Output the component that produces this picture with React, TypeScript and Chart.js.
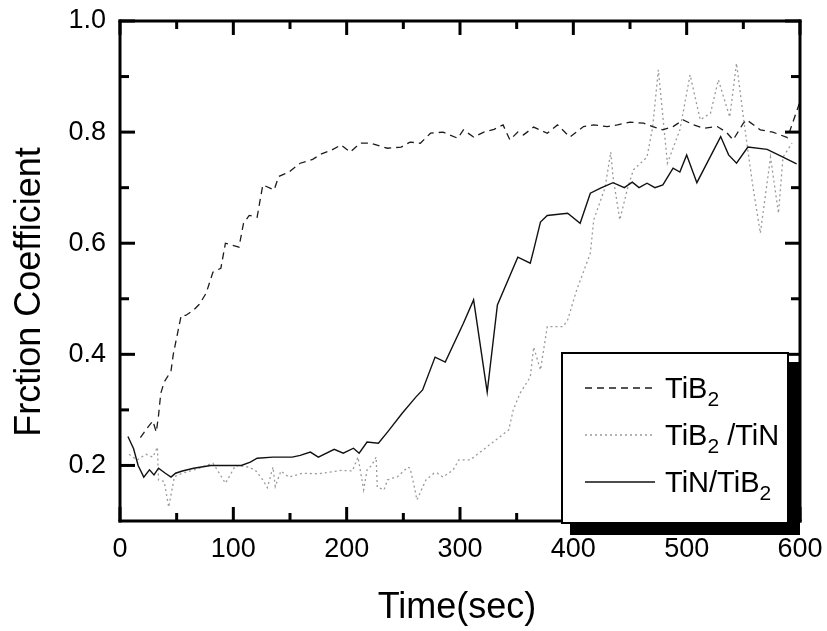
import React, { useEffect, useRef } from "react";
import { Chart, registerables } from "chart.js";

Chart.register(...registerables);

// ---- Data ----
const tib2Time = [18, 25, 29, 32, 34, 36, 39, 45, 47, 51, 54, 58, 65, 70, 76, 82, 89, 93, 105, 109, 114, 121, 126, 136, 140, 149, 159, 170, 177, 187, 195, 203, 212, 221, 229, 236, 248, 256, 265, 274, 285, 298, 303, 312, 321, 330, 338, 344, 351, 356, 365, 377, 386, 397, 409, 418, 430, 439, 450, 462, 470, 479, 488, 497, 506, 515, 527, 535, 541, 550, 553, 565, 576, 589, 600];
const tib2Coef = [0.25, 0.27, 0.28, 0.26, 0.29, 0.33, 0.35, 0.37, 0.4, 0.44, 0.47, 0.47, 0.48, 0.49, 0.51, 0.548, 0.555, 0.6, 0.593, 0.636, 0.65, 0.647, 0.705, 0.696, 0.72, 0.728, 0.744, 0.751, 0.76, 0.768, 0.777, 0.764, 0.78, 0.78, 0.775, 0.771, 0.773, 0.782, 0.78, 0.798, 0.8, 0.789, 0.804, 0.791, 0.8, 0.805, 0.813, 0.786, 0.8, 0.795, 0.809, 0.798, 0.813, 0.791, 0.81, 0.813, 0.81, 0.813, 0.818, 0.816, 0.81, 0.804, 0.81, 0.822, 0.813, 0.807, 0.81, 0.8, 0.786, 0.816, 0.822, 0.804, 0.8, 0.79, 0.855];

const tib2TinTime = [8, 15, 23, 29, 33, 34, 39, 43, 48, 55, 62, 70, 76, 82, 87, 93, 102, 114, 120, 126, 130, 135, 137, 142, 149, 161, 175, 195, 205, 210, 215, 218, 222, 226, 227, 233, 236, 245, 254, 256, 259, 262, 270, 277, 280, 285, 294, 299, 309, 343, 347, 353, 362, 365, 371, 377, 391, 395, 403, 415, 418, 428, 433, 435, 441, 448, 453, 465, 470, 475, 483, 494, 503, 512, 521, 528, 538, 544, 550, 558, 565, 574, 581, 585, 593];
const tib2TinCoef = [0.22, 0.21, 0.22, 0.215, 0.233, 0.174, 0.171, 0.125, 0.18, 0.186, 0.19, 0.195, 0.2, 0.204, 0.188, 0.168, 0.2, 0.197, 0.19, 0.174, 0.16, 0.197, 0.162, 0.19, 0.179, 0.186, 0.185, 0.191, 0.19, 0.215, 0.156, 0.192, 0.2, 0.215, 0.161, 0.156, 0.174, 0.18, 0.197, 0.195, 0.168, 0.138, 0.174, 0.186, 0.186, 0.179, 0.192, 0.21, 0.21, 0.264, 0.3, 0.33, 0.359, 0.413, 0.372, 0.45, 0.45, 0.462, 0.516, 0.582, 0.642, 0.7, 0.764, 0.72, 0.642, 0.7, 0.732, 0.755, 0.809, 0.912, 0.744, 0.804, 0.903, 0.822, 0.834, 0.894, 0.827, 0.924, 0.827, 0.708, 0.618, 0.755, 0.654, 0.755, 0.78];

const tinTib2Time = [7, 12, 16, 21, 26, 30, 34, 40, 45, 49, 55, 65, 80, 95, 107, 115, 121, 135, 152, 159, 168, 175, 189, 197, 206, 211, 218, 228, 236, 249, 261, 267, 278, 287, 303, 312, 324, 333, 351, 362, 365, 371, 377, 395, 406, 415, 424, 435, 445, 452, 458, 465, 472, 479, 488, 494, 500, 509, 530, 537, 544, 554, 571, 585, 597];
const tinTib2Coef = [0.252, 0.23, 0.2, 0.179, 0.192, 0.183, 0.195, 0.186, 0.179, 0.186, 0.19, 0.195, 0.2, 0.2, 0.2, 0.206, 0.213, 0.215, 0.215, 0.218, 0.224, 0.215, 0.229, 0.222, 0.231, 0.222, 0.242, 0.24, 0.26, 0.294, 0.323, 0.336, 0.395, 0.386, 0.456, 0.498, 0.332, 0.489, 0.575, 0.564, 0.588, 0.638, 0.65, 0.654, 0.636, 0.69, 0.699, 0.709, 0.7, 0.71, 0.7, 0.708, 0.7, 0.705, 0.735, 0.728, 0.759, 0.709, 0.792, 0.759, 0.744, 0.773, 0.769, 0.755, 0.743];

const xTicks = [0, 100, 200, 300, 400, 500, 600];
const yTicks = [0.2, 0.4, 0.6, 0.8, 1.0];
const xMinorStep = 50;
const yMinorStep = 0.1;

const xTitle = "Time(sec)";
const yTitle = "Frction Coefficient";

const FONT = '"Liberation Sans", Arial, Helvetica, sans-serif';

const zip = (xs: number[], ys: number[]) => xs.map((x, i) => ({ x, y: ys[i] }));

const styles = {
  tib2: { color: "#1c1c1c", dash: [7, 5], width: 1.3 },
  tib2Tin: { color: "#9a9a9a", dash: [2, 3], width: 1.3 },
  tinTib2: { color: "#111111", dash: [] as number[], width: 1.4 },
};

const decorPlugin = {
  id: "decor",
  afterDraw(chart: any) {
    const ctx = chart.ctx;
    const ca = chart.chartArea;
    const left = ca.left, right = ca.right, top = ca.top, bottom = ca.bottom;
    const xs = chart.scales.x;
    const ys = chart.scales.y;
    ctx.save();
    ctx.setLineDash([]);
    ctx.globalAlpha = 1;
    ctx.globalCompositeOperation = "source-over";
    ctx.fillStyle = "#000000";
    // ticks (inward)
    const nx = Math.round(600 / xMinorStep);
    for (let k = 0; k <= nx; k++) {
      const v = k * xMinorStep;
      const px = left + ((right - left) * v) / 600;
      const len = k % 2 === 0 ? 14 : 8;
      ctx.fillRect(px - 1.5, bottom - len, 3, len);
      ctx.fillRect(px - 1.5, top, 3, len);
    }
    for (let i = 2; i <= 10; i++) {
      const v = i * yMinorStep;
      const py = bottom - ((bottom - top) * (v - 0.1)) / 0.9;
      const len = i % 2 === 0 ? 15 : 9;
      ctx.fillRect(left, py - 1.5, len, 3);
      ctx.fillRect(right - len, py - 1.5, len, 3);
    }
    // frame
    ctx.fillRect(left - 1.5, top - 1.5, right - left + 3, 3);
    ctx.fillRect(left - 1.5, bottom - 1.5, right - left + 3, 3);
    ctx.fillRect(left - 1.5, top - 1.5, 3, bottom - top + 3);
    ctx.fillRect(right - 1.5, top - 1.5, 3, bottom - top + 3);

    // axis titles
    ctx.font = `36px ${FONT}`;
    ctx.textAlign = "center";
    ctx.textBaseline = "alphabetic";
    ctx.fillText(xTitle, 457, 618);
    ctx.save();
    ctx.translate(40, 292);
    ctx.rotate(-Math.PI / 2);
    ctx.fillText(yTitle, 0, 0);
    ctx.restore();

    // legend with shadow
    ctx.fillStyle = "#000";
    ctx.fillRect(570, 523, 230, 12);
    ctx.fillRect(788, 362, 12, 173);
    ctx.fillStyle = "#fff";
    ctx.fillRect(562, 353, 226, 170);
    ctx.lineWidth = 2;
    ctx.strokeStyle = "#000";
    ctx.strokeRect(562, 353, 226, 170);

    const entries = [
      { st: styles.tib2, y: 388, base: 398, parts: [["TiB", false], ["2", true]] },
      { st: styles.tib2Tin, y: 435, base: 445, parts: [["TiB", false], ["2", true], [" /TiN", false]] },
      { st: styles.tinTib2, y: 482, base: 492, parts: [["TiN/TiB", false], ["2", true]] },
    ];
    entries.forEach((e) => {
      ctx.save();
      ctx.strokeStyle = e.st.color;
      ctx.lineWidth = e.st.width;
      ctx.setLineDash(e.st.dash);
      ctx.beginPath();
      ctx.moveTo(585, e.y);
      ctx.lineTo(655, e.y);
      ctx.stroke();
      ctx.restore();
      let x = 665;
      ctx.fillStyle = "#000";
      ctx.textAlign = "left";
      ctx.textBaseline = "alphabetic";
      (e.parts as [string, boolean][]).forEach(([t, sub]) => {
        ctx.font = sub ? `21px ${FONT}` : `29px ${FONT}`;
        ctx.fillText(t, x, sub ? e.base + 8 : e.base);
        x += ctx.measureText(t).width;
      });
    });
    ctx.restore();
  },
};

export default function App() {
  const ref = useRef<HTMLCanvasElement | null>(null);
  useEffect(() => {
    document.body.style.margin = "0";
    const canvas = ref.current!;
    const chart = new Chart(canvas, {
      type: "line",
      data: {
        datasets: [
          {
            label: "TiN/TiB2",
            data: zip(tinTib2Time, tinTib2Coef),
            borderColor: styles.tinTib2.color,
            borderWidth: styles.tinTib2.width,
            borderDash: styles.tinTib2.dash,
            pointRadius: 0,
            tension: 0,
            fill: false,
          },
          {
            label: "TiB2",
            data: zip(tib2Time, tib2Coef),
            borderColor: styles.tib2.color,
            borderWidth: styles.tib2.width,
            borderDash: styles.tib2.dash,
            pointRadius: 0,
            tension: 0,
            fill: false,
          },
          {
            label: "TiB2/TiN",
            data: zip(tib2TinTime, tib2TinCoef),
            borderColor: styles.tib2Tin.color,
            borderWidth: styles.tib2Tin.width,
            borderDash: styles.tib2Tin.dash,
            pointRadius: 0,
            tension: 0,
            fill: false,
          },
        ],
      },
      options: {
        responsive: false,
        animation: false,
        devicePixelRatio: 1,
        layout: { padding: { top: 21, right: 27, left: 0, bottom: 0 } },
        plugins: { legend: { display: false }, tooltip: { enabled: false } },
        scales: {
          x: {
            type: "linear",
            min: 0,
            max: 600,
            afterBuildTicks: (s: any) => {
              s.ticks = xTicks.map((v) => ({ value: v }));
            },
            afterFit: (s: any) => {
              s.height = 110;
              s.paddingLeft = 0;
              s.paddingRight = 0;
            },
            grid: { display: false, drawTicks: false },
            border: { display: false },
            ticks: {
              color: "#000",
              font: { family: FONT, size: 27 },
              padding: 12,
              maxRotation: 0,
              autoSkip: false,
            },
          },
          y: {
            type: "linear",
            min: 0.1,
            max: 1.0,
            afterBuildTicks: (s: any) => {
              s.ticks = yTicks.map((v) => ({ value: v }));
            },
            afterFit: (s: any) => {
              s.width = 120;
              s.paddingTop = 0;
              s.paddingBottom = 0;
            },
            grid: { display: false, drawTicks: false },
            border: { display: false },
            ticks: {
              color: "#000",
              font: { family: FONT, size: 27 },
              padding: 14,
              autoSkip: false,
              callback: (v: any) => Number(v).toFixed(1),
            },
          },
        },
      },
      plugins: [decorPlugin],
    });
    return () => chart.destroy();
  }, []);
  return (
    <div style={{ width: 827, height: 631 }}>
      <canvas ref={ref} width={827} height={631} style={{ display: "block", width: 827, height: 631 }} />
    </div>
  );
}
